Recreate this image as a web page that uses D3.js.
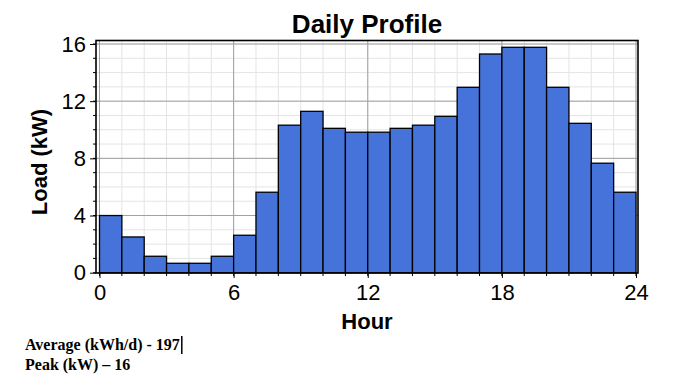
<!DOCTYPE html>
<html>
<head>
<meta charset="utf-8">
<script src="https://cdn.jsdelivr.net/npm/d3@7"></script>
<style>
  body { margin: 0; background: #fff; }
  svg { display: block; }
</style>
</head>
<body>
<div id="profile"></div>
<script>
// --------------------------------------------------
// Daily load profile, hourly bars

var hours = [0, 1, 2, 3, 4, 5, 6, 7, 8, 9, 10, 11,
             12, 13, 14, 15, 16, 17, 18, 19, 20, 21, 22, 23];
var loads = [4.0, 2.5, 1.15, 0.66, 0.66, 1.15, 2.62, 5.63, 10.32, 11.29, 10.1, 9.83,
             9.83, 10.1, 10.32, 10.94, 12.97, 15.3, 15.77, 15.77, 12.97, 10.45, 7.66, 5.63];
var xTicks = [0, 6, 12, 18, 24];
var yTicks = [0, 4, 8, 12, 16];
var statLines = ["Average (kWh/d) - 197", "Peak (kW) \u2013 16"];

var W = 695, H = 387;
var frame = { left: 96, right: 638, top: 40.5, bottom: 273 };

var svg = d3.select("#profile")
    .append("svg")
    .attr("width", W)
    .attr("height", H);

// scales
var x = d3.scaleLinear()
    .domain([0, 24])
    .range([99.5, 636]);

var y = d3.scaleLinear()
    .domain([0, 16])
    .range([272.7, 44]);

var minorX = d3.range(0, 25, 1);
var minorY = d3.range(0, 17, 1);

// minor grid
svg.append("g").selectAll("line.vminor")
    .data(minorX)
    .enter().append("line")
    .attr("x1", function(d) { return x(d); })
    .attr("x2", function(d) { return x(d); })
    .attr("y1", frame.top)
    .attr("y2", frame.bottom)
    .attr("stroke", "#e4e4e4")
    .attr("stroke-width", 1);

svg.append("g").selectAll("line.hminor")
    .data(minorY)
    .enter().append("line")
    .attr("x1", frame.left)
    .attr("x2", frame.right)
    .attr("y1", function(d) { return y(d); })
    .attr("y2", function(d) { return y(d); })
    .attr("stroke", "#e4e4e4")
    .attr("stroke-width", 1);

// major grid
svg.append("g").selectAll("line")
    .data(xTicks)
    .enter().append("line")
    .attr("x1", function(d) { return x(d); })
    .attr("x2", function(d) { return x(d); })
    .attr("y1", frame.top)
    .attr("y2", frame.bottom)
    .attr("stroke", "#a0a0a0")
    .attr("stroke-width", 1);

svg.append("g").selectAll("line")
    .data(yTicks)
    .enter().append("line")
    .attr("x1", frame.left)
    .attr("x2", frame.right)
    .attr("y1", function(d) { return y(d); })
    .attr("y2", function(d) { return y(d); })
    .attr("stroke", "#a0a0a0")
    .attr("stroke-width", 1);

// bars
svg.append("g").selectAll("rect")
    .data(hours)
    .enter().append("rect")
    .attr("x", function(d) { return x(d); })
    .attr("width", function(d) { return x(d + 1) - x(d); })
    .attr("y", function(d, i) { return y(loads[i]); })
    .attr("height", function(d, i) { return y(0) - y(loads[i]); })
    .attr("fill", "#4673da")
    .attr("stroke", "#000")
    .attr("stroke-width", 1.3);

// frame
svg.append("rect")
    .attr("x", frame.left)
    .attr("y", frame.top)
    .attr("width", frame.right - frame.left)
    .attr("height", frame.bottom - frame.top)
    .attr("fill", "none")
    .attr("stroke", "#000")
    .attr("stroke-width", 1.6);

// x axis
var xAxis = d3.axisBottom(x)
    .tickValues(xTicks)
    .tickSize(5)
    .tickPadding(6)
    .tickFormat(d3.format("d"));
var gx = svg.append("g")
    .attr("transform", "translate(0," + frame.bottom + ")")
    .call(xAxis);
gx.select(".domain").remove();
gx.selectAll("text")
    .attr("font-family", "Liberation Sans, Arial, sans-serif")
    .attr("font-size", "22px")
    .attr("fill", "#000");

svg.append("g").selectAll("line")
    .data(minorX)
    .enter().append("line")
    .attr("x1", function(d) { return x(d); })
    .attr("x2", function(d) { return x(d); })
    .attr("y1", frame.bottom)
    .attr("y2", frame.bottom + 3)
    .attr("stroke", "#000");

// y axis
var yAxis = d3.axisLeft(y)
    .tickValues(yTicks)
    .tickSize(6)
    .tickPadding(4)
    .tickFormat(d3.format("d"));
var gy = svg.append("g")
    .attr("transform", "translate(" + frame.left + ",0)")
    .call(yAxis);
gy.select(".domain").remove();
gy.selectAll("text")
    .attr("font-family", "Liberation Sans, Arial, sans-serif")
    .attr("font-size", "22px")
    .attr("fill", "#000");

svg.append("g").selectAll("line")
    .data(minorY)
    .enter().append("line")
    .attr("x1", frame.left - 3)
    .attr("x2", frame.left)
    .attr("y1", function(d) { return y(d); })
    .attr("y2", function(d) { return y(d); })
    .attr("stroke", "#000");

// title
svg.append("text")
    .attr("x", (frame.left + frame.right) / 2)
    .attr("y", 33)
    .attr("text-anchor", "middle")
    .attr("font-family", "Liberation Sans, Arial, sans-serif")
    .attr("font-weight", "bold")
    .attr("font-size", "26px")
    .text("Daily Profile");

// x label
svg.append("text")
    .attr("x", (frame.left + frame.right) / 2)
    .attr("y", 329)
    .attr("text-anchor", "middle")
    .attr("font-family", "Liberation Sans, Arial, sans-serif")
    .attr("font-weight", "bold")
    .attr("font-size", "22px")
    .text("Hour");

// y label
svg.append("text")
    .attr("x", -162)
    .attr("y", 47)
    .attr("text-anchor", "middle")
    .attr("transform", "rotate(-90)")
    .attr("font-family", "Liberation Sans, Arial, sans-serif")
    .attr("font-weight", "bold")
    .attr("font-size", "22px")
    .text("Load (kW)");

// stats under the chart
var stats = svg.append("g")
    .attr("font-family", "Liberation Serif, Times New Roman, serif")
    .attr("font-weight", "bold")
    .attr("font-size", "16px");
stats.selectAll("text")
    .data(statLines)
    .enter().append("text")
    .attr("x", 25)
    .attr("y", function(d, i) { return 350 + i * 20; })
    .text(function(d) { return d; });

// text cursor after the first line
var firstLen = stats.select("text").node().getComputedTextLength();
svg.append("line")
    .attr("x1", 25 + firstLen + 2)
    .attr("x2", 25 + firstLen + 2)
    .attr("y1", 336)
    .attr("y2", 354)
    .attr("stroke", "#000")
    .attr("stroke-width", 1.5);
</script>
</body>
</html>
